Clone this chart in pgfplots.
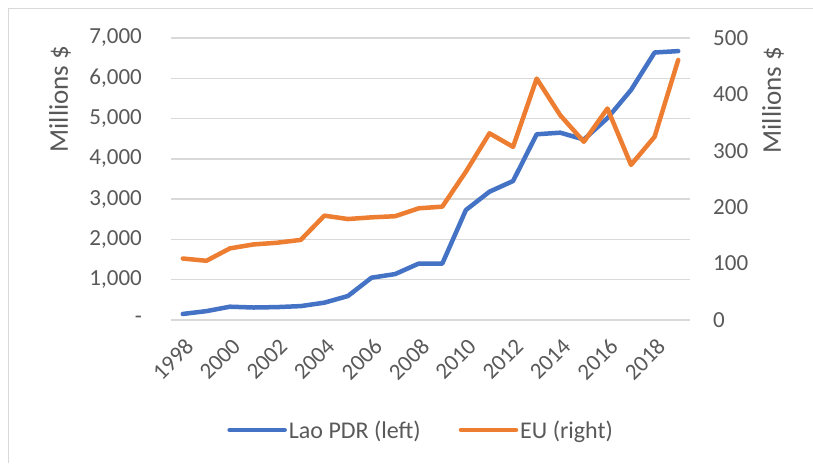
\documentclass[border=0pt]{standalone}
\usepackage{pgfplots}
\pgfplotsset{compat=1.18}
\usepackage{fontspec}
\setmainfont{Carlito}
\definecolor{laoblue}{HTML}{4472C4}
\definecolor{euorange}{HTML}{ED7D31}
\definecolor{gridgray}{HTML}{D9D9D9}
\definecolor{txtgray}{HTML}{595959}
\begin{document}
\begin{tikzpicture}[x=1pt,y=1pt]
\useasboundingbox (0,0) rectangle (813,463);
\fill[white] (0,0) rectangle (813,463);
\draw[gridgray, line width=1.5pt] (8.5,0) -- (8.5,454.5) -- (813,454.5);
\pgfplotsset{
  common/.style={
    scale only axis, width=519pt, height=282pt,
    at={(171pt,143pt)}, anchor=south west,
    xmin=1997.5, xmax=2019.5,
    axis line style={draw=none},
    major tick length=0pt,
    tick label style={font=\fontsize{23}{27}\selectfont, text=txtgray},
    /pgf/number format/assume math mode=true,
    /pgf/number format/1000 sep={},
  },
}
\begin{axis}[common,
  ymin=0, ymax=7000, ytick={0,1000,...,7000},
  yticklabels={{-},{1,000},{2,000},{3,000},{4,000},{5,000},{6,000},{7,000}},
  ymajorgrids, grid style={gridgray, line width=1.4pt},
  xtick={1998,2000,...,2018},
  xticklabel style={anchor=north east, inner sep=0pt, xshift=1pt, yshift=-17pt, rotate=45},
  yticklabel style={anchor=east, inner sep=0pt, xshift=-29pt},
]
\addplot[laoblue, line width=4.5pt, line join=round, line cap=round] coordinates {
(1998,150) (1999,220) (2000,330) (2001,310) (2002,320) (2003,345) (2004,430)
(2005,595) (2006,1050) (2007,1140) (2008,1400) (2009,1400) (2010,2730)
(2011,3185) (2012,3450) (2013,4610) (2014,4650) (2015,4480) (2016,5010)
(2017,5710) (2018,6640) (2019,6675)};
\end{axis}
\begin{axis}[common,
  ymin=0, ymax=500, ytick={0,100,...,500},
  hide x axis,
  yticklabel pos=right,
  yticklabel style={anchor=west, inner sep=0pt, xshift=23pt},
  legend columns=2,
  legend style={draw=none, fill=none, at={(rel axis cs:0.482,-0.39)}, anchor=center,
    font=\fontsize{24}{28}\selectfont, text=txtgray,
    /tikz/every even column/.append style={column sep=36pt}},
  legend image code/.code={\draw[#1] (0pt,0pt) -- (55pt,0pt);},
]
\addlegendimage{laoblue, line width=4.5pt, line cap=round}
\addlegendentry{Lao PDR (left)}
\addplot[euorange, line width=4.5pt, line join=round, line cap=round] coordinates {
(1998,109) (1999,105) (2000,127) (2001,134) (2002,137) (2003,142) (2004,185)
(2005,179) (2006,182) (2007,184) (2008,198) (2009,201) (2010,263)
(2011,331) (2012,307) (2013,428) (2014,363) (2015,316) (2016,375)
(2017,275) (2018,325) (2019,461)};
\addlegendentry{EU (right)}
\end{axis}
\node[rotate=90, font=\fontsize{27}{31}\selectfont, text=txtgray] at (60,364) {Millions \$};
\node[rotate=90, font=\fontsize{27}{31}\selectfont, text=txtgray] at (773,363) {Millions \$};
\end{tikzpicture}
\end{document}
